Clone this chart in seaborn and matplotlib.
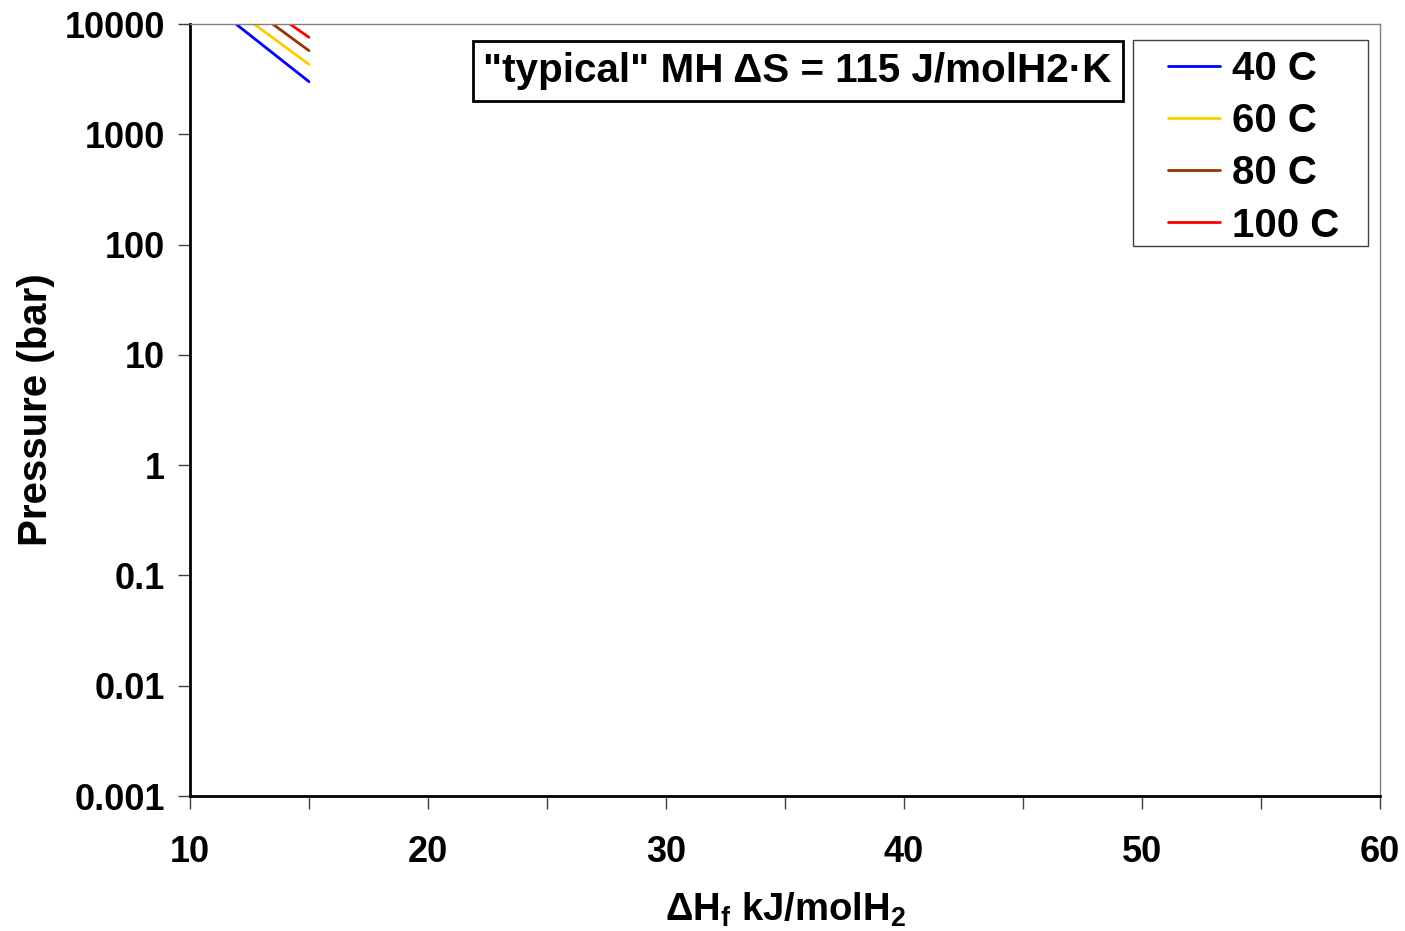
# van't Hoff lines, typical metal hydride
import matplotlib
matplotlib.use('Agg')
import matplotlib.pyplot as plt
import seaborn as sns
import pandas as pd
import numpy as np
from matplotlib.ticker import FixedLocator, NullLocator
from matplotlib.lines import Line2D
from matplotlib.patches import Rectangle

# data (dH in kJ/molH2, pressure in bar)
temps = ['40 C', '60 C', '80 C', '100 C']
colors = ['#0000FF', '#FFCC00', '#993300', '#FF0000']
dh_40 = [11.93, 15.0]
p_40 = [10000, 3000]
dh_60 = [12.69, 15.0]
p_60 = [10000, 4310]
dh_80 = [13.47, 15.0]
p_80 = [10000, 5730]
dh_100 = [14.2, 15.0]
p_100 = [10000, 7570]

xticks = [10, 20, 30, 40, 50, 60]
yticks = [0.001, 0.01, 0.1, 1, 10, 100, 1000, 10000]
ylabels = ['0.001', '0.01', '0.1', '1', '10', '100', '1000', '10000']

df = pd.concat([
    pd.DataFrame({'dH': dh_40, 'P': p_40, 'T': temps[0]}),
    pd.DataFrame({'dH': dh_60, 'P': p_60, 'T': temps[1]}),
    pd.DataFrame({'dH': dh_80, 'P': p_80, 'T': temps[2]}),
    pd.DataFrame({'dH': dh_100, 'P': p_100, 'T': temps[3]}),
], ignore_index=True)

sns.set_style('white')
plt.rcParams['font.family'] = ['Liberation Sans', 'DejaVu Sans']
plt.rcParams['font.weight'] = 'bold'
plt.rcParams['mathtext.default'] = 'regular'
plt.rcParams['text.color'] = 'black'
plt.rcParams['axes.labelcolor'] = 'black'
plt.rcParams['xtick.color'] = 'black'
plt.rcParams['ytick.color'] = 'black'

fig = plt.figure(figsize=(14.05, 9.31), dpi=100)
ax = fig.add_axes([190/1405, 1-796/931, 1190/1405, 772/931])

sns.lineplot(data=df, x='dH', y='P', hue='T', palette=colors,
             hue_order=temps, linewidth=2, ax=ax, legend=False)

ax.set_yscale('log')
ax.set_xlim(10, 60)
ax.set_ylim(0.001, 10000)

ax.xaxis.set_major_locator(FixedLocator(xticks))
ax.xaxis.set_minor_locator(FixedLocator([15, 25, 35, 45, 55]))
ax.yaxis.set_major_locator(FixedLocator(yticks))
ax.yaxis.set_minor_locator(NullLocator())
ax.set_yticklabels(ylabels)
ax.set_xticklabels([str(v) for v in xticks])

ax.tick_params(axis='both', which='both', direction='out', length=9, width=1,
               color='#404040', labelsize=26, labelcolor='black')
ax.tick_params(axis='x', which='both', bottom=True, pad=19)
ax.tick_params(axis='y', left=True, pad=9)
for lab in ax.get_xticklabels() + ax.get_yticklabels():
    lab.set_fontweight('bold')

for s in ['left', 'bottom']:
    ax.spines[s].set_color('black')
    ax.spines[s].set_linewidth(2)
for s in ['top', 'right']:
    ax.spines[s].set_color('#808080')
    ax.spines[s].set_linewidth(1)

ax.set_xlabel(r'ΔH$_\mathregular{f}$ kJ/molH$_\mathregular{2}$', fontsize=27.5,
              fontweight='bold', labelpad=15)
ax.set_ylabel('Pressure (bar)', fontsize=29, fontweight='bold', labelpad=7)

# annotation box
ax.text(0.2466, 0.939, '"typical" MH ΔS = 115 J/molH2·K', transform=ax.transAxes,
        fontsize=29.1, fontweight='bold', va='center', ha='left',
        bbox=dict(boxstyle='square,pad=0.27', fc='white', ec='black', lw=2))

# legend, frame drawn separately (wider side padding than top/bottom)
ax.add_patch(Rectangle((0.7924, 0.7124), 0.1975, 0.2669, transform=ax.transAxes,
                       fc='white', ec='#404040', lw=1, zorder=4))
handles = [Line2D([], [], color=c, lw=2) for c in colors]
leg = ax.legend(handles, temps, loc='upper left', bbox_to_anchor=(0.8218, 0.966),
                fontsize=29, frameon=False, handlelength=1.3,
                labelspacing=0.35, borderpad=0, handletextpad=0.3,
                borderaxespad=0)
leg.set_zorder(5)
for t in leg.get_texts():
    t.set_fontweight('bold')

fig.savefig('out.png', dpi=100)
